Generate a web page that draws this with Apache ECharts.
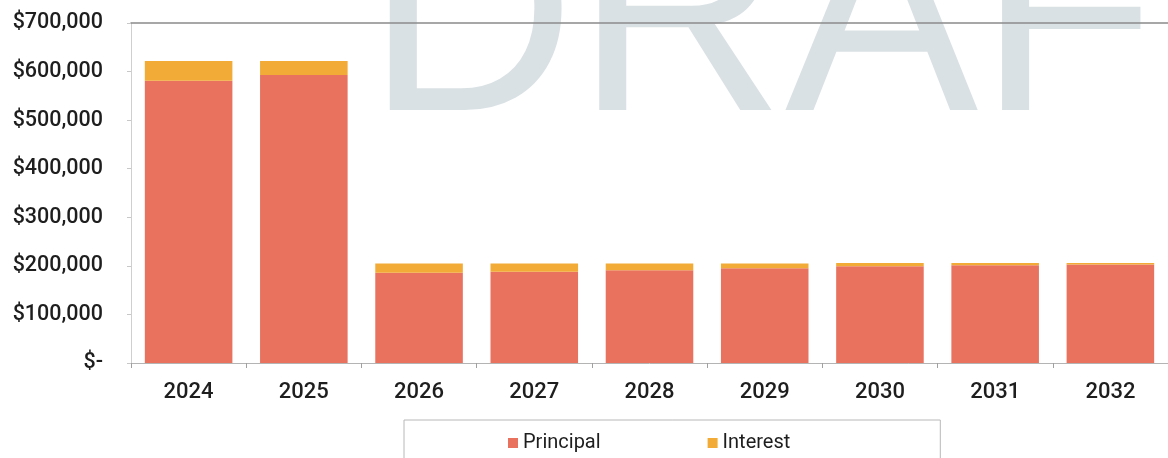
<!DOCTYPE html>
<html>
<head>
<meta charset="utf-8">
<script src="https://cdn.jsdelivr.net/npm/echarts@6/dist/echarts.min.js"></script>
<style>
  html, body { margin: 0; padding: 0; background: #ffffff; }
  #chart { width: 1168px; height: 458px; }
</style>
</head>
<body>
<div id="chart"></div>
<script>
// Debt service schedule by fiscal year
const years = ['2024', '2025', '2026', '2027', '2028', '2029', '2030', '2031', '2032'];
const principal = [581000, 593000, 186000, 188000, 191000, 195000, 199000, 201000, 203000];
const interest = [41000, 29000, 19000, 17000, 14000, 10000, 7000, 5000, 3000];
const yTicks = [0, 100000, 200000, 300000, 400000, 500000, 600000, 700000];

const chart = echarts.init(document.getElementById('chart'), null, { renderer: 'canvas' });

function money(v) {
  if (v === 0) return '$-';
  return '$' + v.toLocaleString('en-US');
}

const axisFont = { fontFamily: 'Roboto', fontWeight: 500, color: '#1e1e1e' };

chart.setOption({
  animation: false,
  backgroundColor: '#ffffff',
  graphic: [{
    type: 'text',
    z: -10,
    silent: true,
    left: 366,
    top: -115,
    style: {
      text: 'DRAFT',
      font: '290px "Liberation Sans", Arial, sans-serif',
      fill: '#dae1e4'
    }
  }],
  grid: { left: 131, right: -8, top: 23, bottom: 95, containLabel: false },
  legend: {
    data: ['Principal', 'Interest'],
    left: 404,
    top: 420,
    padding: [13, 150, 30, 104],
    borderColor: '#b8b8b8',
    borderWidth: 1,
    itemWidth: 10,
    itemHeight: 10,
    itemGap: 107,
    icon: 'rect',
    textStyle: { fontFamily: 'Roboto', fontSize: 20, color: '#1e1e1e' }
  },
  xAxis: [{
    type: 'category',
    data: years,
    axisLine: { lineStyle: { color: '#b4b4b4', width: 1 } },
    axisTick: { show: true, length: 5, lineStyle: { color: '#a0a0a0' } },
    axisLabel: Object.assign({ fontSize: 22, margin: 18 }, axisFont)
  }, {
    type: 'category',
    data: years,
    position: 'top',
    axisLine: { lineStyle: { color: '#8a8a8a', width: 1.5 } },
    axisTick: { show: false },
    axisLabel: { show: false }
  }],
  yAxis: {
    type: 'value',
    min: 0,
    max: yTicks[yTicks.length - 1],
    interval: yTicks[1] - yTicks[0],
    axisLine: { show: true, lineStyle: { color: '#cfcfcf' } },
    axisTick: { show: true, length: 4, lineStyle: { color: '#c8c8c8' } },
    splitLine: { show: false },
    axisLabel: Object.assign({ fontSize: 21.5, margin: 28, formatter: money }, axisFont)
  },
  series: [{
    name: 'Principal',
    type: 'bar',
    stack: 'debt',
    data: principal,
    barCategoryGap: '24%',
    itemStyle: { color: '#e9725f' }
  }, {
    name: 'Interest',
    type: 'bar',
    stack: 'debt',
    data: interest,
    barCategoryGap: '24%',
    itemStyle: { color: '#f2ab36' }
  }]
});
</script>
</body>
</html>
